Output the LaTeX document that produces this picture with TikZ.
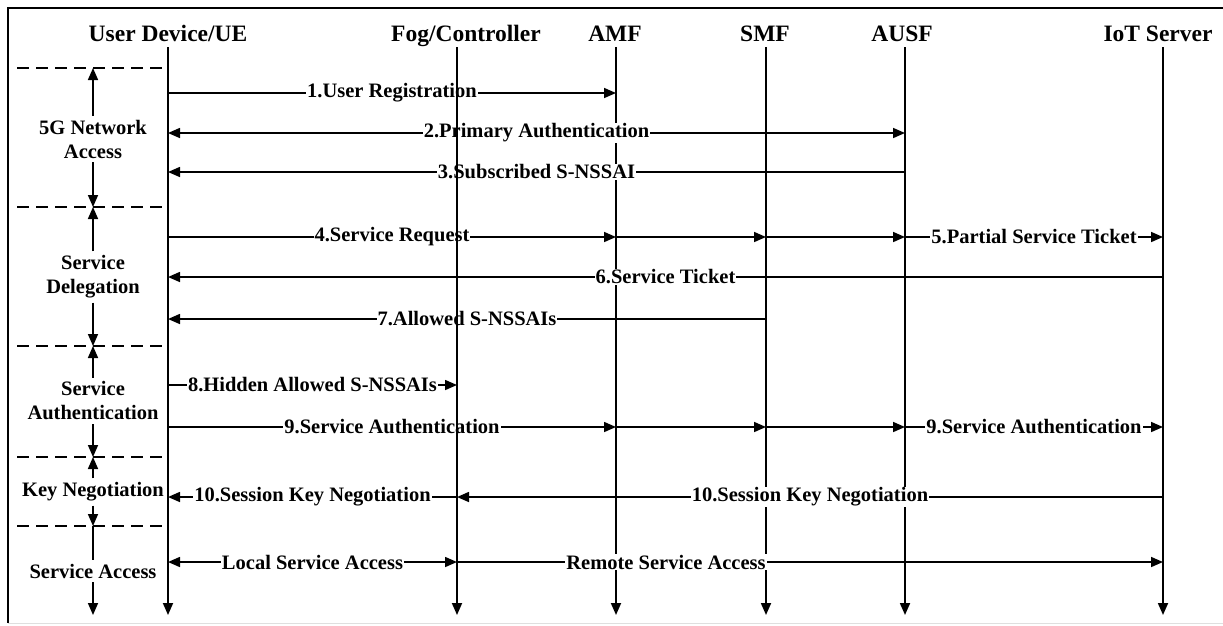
\documentclass[tikz,border=0pt]{standalone}
\usepackage{fontspec}
\setmainfont{Liberation Serif}
\usetikzlibrary{arrows.meta,positioning}
\tikzset{
   actor/.style={ inner sep=0pt, anchor=base, font=\fontsize{23.5}{28}\selectfont\bfseries},
   msg/.style={ fill=white, inner sep=1pt, font=\fontsize{20.5}{24}\selectfont\bfseries},
   phase/.style={ align=center, inner sep=4pt, font=\fontsize{20.5}{24}\selectfont\bfseries},
   lifeline/.style={ ->, line width=1.8pt},
   call/.style={ ->, line width=1.6pt},
   separator/.style={ line width=1.4pt, dash pattern=on 12pt off 7pt},
   >={Triangle[length=12pt,width=10pt]}
}

\begin{document}
\begin{tikzpicture}[x=1pt,y=-1pt]

  \useasboundingbox (0,0) rectangle (1223,625);
  \draw[line width=1.6pt] (1223,8) -| (8,623);
  \draw[gray!25, line width=1pt] (8,623) -- (1223,623);

  \node[actor] at (168,41)  (ue)   {User Device/UE};
  \node[actor] at (466,41)  (fog)  {Fog/Controller};
  \node[actor] at (615,41)  (amf)  {AMF};
  \node[actor] at (765,41)  (smf)  {SMF};
  \node[actor] at (902,41)  (ausf) {AUSF};
  \node[actor] at (1158,41) (iot)  {IoT Server};

  \node[coordinate] at (168,47)  (ue top)   {};
  \node[coordinate] at (457,47)  (fog top)  {};
  \node[coordinate] at (616,47)  (amf top)  {};
  \node[coordinate] at (766,47)  (smf top)  {};
  \node[coordinate] at (905,47)  (ausf top) {};
  \node[coordinate] at (1163,47) (iot top)  {};
  \node[coordinate] at (0,615)   (bottom)   {};

  \foreach \n/\y in {1/93,2/133,3/172,4/237,6/277,7/319,8/385,9/427,10/497,11/562}
    \node[coordinate] at (0,\y) (row \n) {};

  %% Phases
  \foreach \i/\y in {0/68,1/207,2/346,3/457,4/526} {
    \node[coordinate] at (93,\y) (sep \i) {};
    \draw[separator] (17,\y) -- (165,\y);
  }

  \node[phase] at (93,139) (network access)  {5G Network\\Access};
  \node[phase] at (93,277) (delegation)      {Service\\Delegation};
  \node[phase] at (93,401) (authentication)  {Service\\Authentication};
  \node[phase] at (93,492) (key negotiation) {Key Negotiation};
  \node[phase] at (93,571) (service access)  {Service Access};

  \draw[call] (network access)  -- (sep 0);
  \draw[call] (network access)  -- (sep 1);
  \draw[call] (delegation)      -- (sep 1);
  \draw[call] (delegation)      -- (sep 2);
  \draw[call] (authentication)  -- (sep 2);
  \draw[call] (authentication)  -- (sep 3);
  \draw[call] (key negotiation) -- (sep 3);
  \draw[call] (key negotiation) -- (sep 4);
  \draw[line width=1.6pt] (sep 4) -- (service access);
  \draw[call] (service access) -- (service access |- bottom);

  %% Lifelines
  \foreach \p in {ue,amf,smf,ausf,iot}
    \draw[lifeline] (\p\space top) -- (\p\space top |- bottom);

  %% Messages
  \draw[call]     (ue top |- row 1) -- node[msg] {1.User Registration} (amf top |- row 1);
  \draw[call,<->] (ue top |- row 2) -- node[msg] {2.Primary Authentication} (ausf top |- row 2);
  \draw[call]     (ausf top |- row 3) -- node[msg] {3.Subscribed S-NSSAI} (ue top |- row 3);

  \draw[call] (ue top |- row 4)   -- node[msg] {4.Service Request} (amf top |- row 4);
  \draw[call] (amf top |- row 4)  -- (smf top |- row 4);
  \draw[call] (smf top |- row 4)  -- (ausf top |- row 4);
  \draw[call] (ausf top |- row 4) -- node[msg] {5.Partial Service Ticket} (iot top |- row 4);
  \draw[call] (iot top |- row 6)  -- node[msg] {6.Service Ticket} (ue top |- row 6);
  \draw[call] (smf top |- row 7)  -- node[msg] {7.Allowed S-NSSAIs} (ue top |- row 7);

  \draw[call] (ue top |- row 8)   -- node[msg] {8.Hidden Allowed S-NSSAIs} (fog top |- row 8);
  \draw[call] (ue top |- row 9)   -- node[msg] {9.Service Authentication} (amf top |- row 9);
  \draw[call] (amf top |- row 9)  -- (smf top |- row 9);
  \draw[call] (smf top |- row 9)  -- (ausf top |- row 9);
  \draw[call] (ausf top |- row 9) -- node[msg] {9.Service Authentication} (iot top |- row 9);

  \draw[call] (fog top |- row 10) -- node[msg] {10.Session Key Negotiation} (ue top |- row 10);
  \draw[call] (iot top |- row 10) -- node[msg] {10.Session Key Negotiation} (fog top |- row 10);

  \draw[call,<->] (ue top |- row 11) -- node[msg] {Local Service Access} (fog top |- row 11);
  \draw[call] (fog top |- row 11) -- node[msg, pos=0.296] {Remote Service Access} (iot top |- row 11);

  \draw[lifeline] (fog top) -- (fog top |- bottom);

\end{tikzpicture}
\end{document}
